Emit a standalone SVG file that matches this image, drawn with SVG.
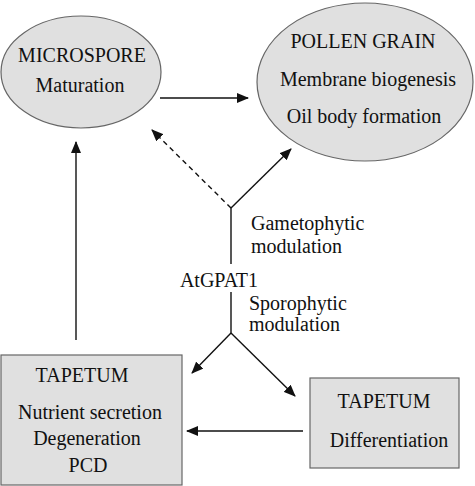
<svg xmlns="http://www.w3.org/2000/svg" width="475" height="486" viewBox="0 0 475 486">
<style>
.t{font-family:"Liberation Serif","Times New Roman",serif;font-size:20px;fill:#111;text-anchor:middle}
.l{font-family:"Liberation Serif","Times New Roman",serif;font-size:20px;fill:#111}
.n{fill:#e0e0e0;stroke:#666;stroke-width:1.2}
.c{stroke:#111;stroke-width:1.4;fill:none}
</style>
<defs>
<marker id="ah" markerWidth="12" markerHeight="10" refX="11" refY="5" orient="auto" markerUnits="userSpaceOnUse">
<path d="M0,0 L12,5 L0,10 Z" fill="#111"/>
</marker>
</defs>
<g id="microspore">
<ellipse class="n" cx="81" cy="72" rx="80" ry="56"/>
<text class="t" x="82" y="62">MICROSPORE</text>
<text class="t" x="80" y="92">Maturation</text>
</g>
<g id="pollen">
<ellipse class="n" cx="365" cy="82" rx="108" ry="79"/>
<text class="t" x="363" y="48">POLLEN GRAIN</text>
<text class="t" x="368" y="86">Membrane biogenesis</text>
<text class="t" x="364" y="123">Oil body formation</text>
</g>
<g id="tapetum1">
<rect class="n" x="1" y="355" width="181" height="130"/>
<text class="t" x="82" y="382">TAPETUM</text>
<text class="t" x="90" y="419">Nutrient secretion</text>
<text class="t" x="87" y="445">Degeneration</text>
<text class="t" x="88" y="472">PCD</text>
</g>
<g id="tapetum2">
<rect class="n" x="310" y="378" width="149" height="90"/>
<text class="t" x="384" y="408">TAPETUM</text>
<text class="t" x="389" y="447">Differentiation</text>
</g>
<g id="atgpat1">
<text class="t" x="219" y="287">AtGPAT1</text>
<text class="l" x="251" y="230">Gametophytic</text>
<text class="l" x="251" y="253">modulation</text>
<text class="l" x="249" y="310">Sporophytic</text>
<text class="l" x="249" y="331">modulation</text>
</g>
<g id="connectors">
<line class="c" x1="160" y1="98" x2="248" y2="98" marker-end="url(#ah)"/>
<line class="c" x1="231" y1="208" x2="152" y2="130" stroke-dasharray="5,4" marker-end="url(#ah)"/>
<line class="c" x1="231" y1="208" x2="291" y2="149" marker-end="url(#ah)"/>
<line class="c" x1="231" y1="208" x2="231" y2="264"/>
<line class="c" x1="231" y1="292" x2="231" y2="333"/>
<line class="c" x1="231" y1="333" x2="192" y2="373" marker-end="url(#ah)"/>
<line class="c" x1="231" y1="333" x2="295" y2="396" marker-end="url(#ah)"/>
<line class="c" x1="303" y1="431" x2="187" y2="431" marker-end="url(#ah)"/>
<line class="c" x1="76" y1="340" x2="76" y2="142" marker-end="url(#ah)"/>
</g>
</svg>
